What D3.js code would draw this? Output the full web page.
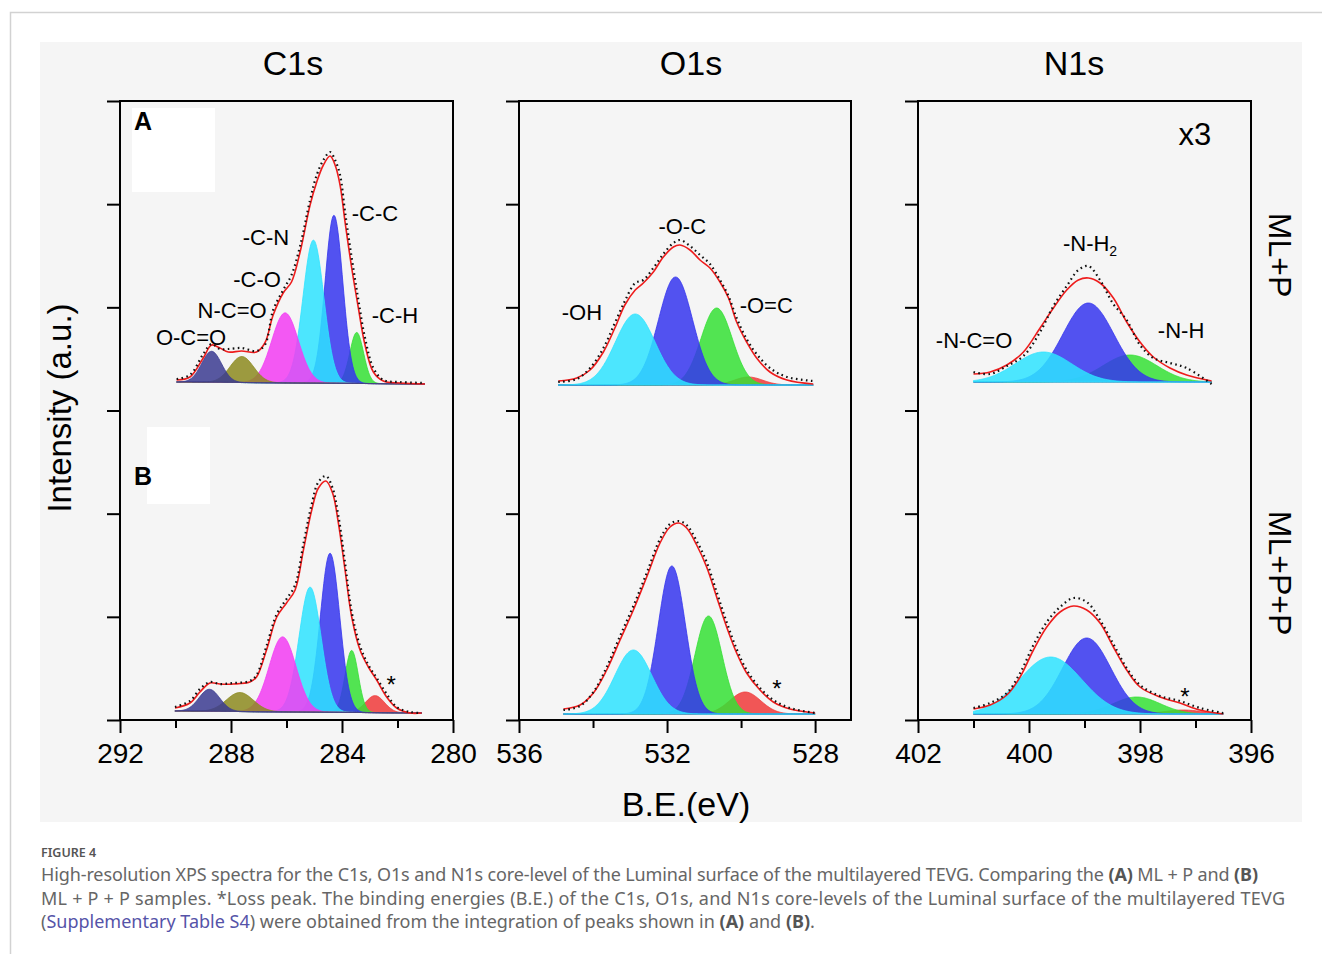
<!DOCTYPE html>
<html>
<head>
<meta charset="utf-8">
<script src="https://cdn.jsdelivr.net/npm/d3@7"></script>
<style>
  body { margin: 0; background: #fff; }
  svg { display: block; }
</style>
</head>
<body>
<svg id="chart" width="1322" height="954"></svg>
<script>
// ---------- data (B.E. in eV, intensity in a.u.) ----------

// tick labels
const c1sMajor = [292, 288, 284, 280]
const c1sMinor = [290, 286, 282]
const o1sMajor = [536, 532, 528]
const o1sMinor = [534, 530]
const n1sMajor = [402, 400, 398, 396]
const n1sMinor = [401, 399, 397]

// C1s, ML+P (A)
const c1sA_E   = [289.96, 289.48, 289.0, 288.70, 288.40, 288.10, 287.62, 287.08, 286.78, 286.48, 286.12, 285.82, 285.51, 285.15, 284.91, 284.67, 284.43, 284.25, 284.07, 283.89, 283.65, 283.41, 283.17, 282.87, 282.51, 281.91, 281.01]
const c1sA_fit = [340, 343, 362, 375, 372, 368, 369, 368, 377, 405, 427, 438, 468, 515, 538, 555, 564, 555, 535, 498, 452, 412, 375, 348, 339, 337, 336]
const c1sA_raw = [341, 345, 366, 376, 371, 371, 372, 369, 375, 410, 430, 445, 474, 520, 545, 560, 568, 560, 545, 508, 462, 420, 382, 352, 340, 338, 337]
const c1sA_bg  = [338, 336]
const c1sA_center = [288.70, 287.61, 286.05, 285.03, 284.29, 283.47]
const c1sA_height = [31, 26, 70, 143, 168, 51]
const c1sA_fwhm   = [0.84, 1.0, 1.13, 0.88, 0.75, 0.58]

// C1s, ML+P+P (B)
const c1sB_E   = [290.02, 289.48, 289.12, 288.76, 288.40, 287.92, 287.32, 287.08, 286.72, 286.35, 286.0, 285.69, 285.39, 285.09, 284.85, 284.58, 284.34, 284.13, 283.89, 283.65, 283.35, 283.05, 282.75, 282.39, 282.03, 281.55, 281.13]
const c1sB_fit = [12, 17, 28, 37, 36, 36, 38, 43, 70, 103, 117, 130, 170, 210, 232, 239, 227, 197, 150, 103, 70, 53, 40, 23, 12, 7, 7]
const c1sB_raw = [13, 19, 31, 38, 36, 37, 39, 45, 74, 106, 121, 135, 176, 216, 238, 244, 232, 204, 157, 108, 74, 55, 42, 26, 13, 8, 7]
const c1sB_bg  = [9, 7]
const c1sB_center = [288.78, 287.68, 286.14, 285.15, 284.43, 283.65, 282.81]
const c1sB_height = [22, 19, 75, 125, 159, 62, 17]
const c1sB_fwhm   = [0.88, 1.14, 1.14, 0.93, 0.82, 0.56, 0.8]

// O1s, ML+P (A)
const o1sA_E   = [534.94, 534.44, 534.08, 533.72, 533.41, 533.14, 532.86, 532.64, 532.37, 532.10, 531.83, 531.65, 531.38, 531.11, 530.84, 530.57, 530.34, 530.12, 529.85, 529.58, 529.22, 528.76, 528.05]
const o1sA_fit = [339, 342, 350, 368, 392, 415, 430, 437, 448, 463, 473, 475, 470, 460, 452, 438, 422, 398, 378, 362, 348, 340, 336]
const o1sA_raw = [338, 341, 352, 372, 397, 419, 437, 440, 452, 466, 477, 480, 474, 465, 456, 440, 424, 402, 381, 366, 352, 343, 339]
const o1sA_bg  = [335, 335]
const o1sA_center = [532.86, 531.77, 530.66, 529.80]
const o1sA_height = [71, 108, 77, 8]
const o1sA_fwhm   = [1.26, 1.08, 0.99, 0.9]

// O1s, ML+P+P (B)
const o1sB_E   = [534.80, 534.35, 533.99, 533.63, 533.27, 532.91, 532.55, 532.19, 531.92, 531.69, 531.47, 531.20, 530.93, 530.66, 530.39, 530.12, 529.85, 529.49, 529.13, 528.68, 528.0]
const o1sB_fit = [11, 15, 27, 50, 80, 110, 143, 177, 193, 197, 192, 175, 153, 123, 93, 67, 47, 30, 18, 11, 7]
const o1sB_raw = [10, 14, 28, 53, 84, 114, 147, 181, 196, 199, 195, 179, 158, 128, 98, 71, 50, 32, 20, 12, 7]
const o1sB_bg  = [6, 6]
const o1sB_center = [532.91, 531.87, 530.88, 529.89]
const o1sB_height = [64, 148, 98, 22]
const o1sB_fwhm   = [1.17, 0.86, 0.86, 0.99]

// N1s, ML+P (A)  (shown x3)
const n1sA_E   = [401.00, 400.70, 400.40, 400.10, 399.80, 399.56, 399.32, 399.11, 398.93, 398.72, 398.48, 398.24, 398.0, 397.76, 397.46, 397.16, 396.71]
const n1sA_fit = [346, 348, 355, 368, 392, 412, 430, 440, 442, 437, 422, 398, 378, 363, 352, 345, 339]
const n1sA_raw = [348, 346, 354, 364, 388, 414, 434, 450, 454, 440, 416, 400, 375, 362, 357, 352, 336]
const n1sA_bg  = [338, 338]
const n1sA_center = [399.74, 398.93, 398.18]
const n1sA_height = [30, 79, 27]
const n1sA_fwhm   = [1.2, 1.08, 1.14]

// N1s, ML+P+P (B)
const n1sB_E   = [401.0, 400.70, 400.40, 400.16, 399.92, 399.68, 399.44, 399.20, 398.96, 398.72, 398.48, 398.24, 398.0, 397.64, 397.28, 396.92, 396.50]
const n1sB_fit = [11, 15, 25, 43, 70, 93, 108, 114, 110, 97, 73, 50, 33, 23, 17, 10, 6]
const n1sB_raw = [12, 17, 27, 47, 75, 98, 113, 122, 118, 100, 76, 52, 35, 24, 19, 12, 7]
const n1sB_bg  = [6, 6]
const n1sB_center = [399.61, 398.96, 398.06, 397.22]
const n1sB_height = [57, 76, 17, 4]
const n1sB_fwhm   = [1.32, 1.02, 1.0, 0.8]

// peak labels: [text, B.E., intensity]
const c1sA_labels = [['-C-C', 282.81, 499], ['-C-N', 286.74, 475], ['-C-O', 287.06, 433], ['N-C=O', 287.96, 402], ['O-C=O', 289.44, 375], ['-C-H', 282.09, 397]]
const o1sA_labels = [['-O-C', 531.59, 486], ['-OH', 534.30, 400], ['-O=C', 529.32, 407]]
const n1sA_labels = [['-N-C=O', 400.99, 372], ['-N-H', 397.26, 382]]
const lossMarks = [[282.23, 27], [529.03, 23], [397.19, 15]]

// ---------- styles ----------
const c1sColors = ['#3b3b90', '#8c8a1e', '#f23cf2', '#2ee3ff', '#3535ee', '#35e035', '#f03a3a']
const oxColors  = ['#2ee3ff', '#3535ee', '#35e035', '#f03a3a']
const font = 'Liberation Sans, Arial, Helvetica, sans-serif'

const svg = d3.select('#chart')

// page frame + figure background
svg.append('path')
    .attr('d', 'M10.5,954 V12.5 H1322')
    .attr('fill', 'none').attr('stroke', '#d2d2d2').attr('stroke-width', 1.5)
svg.append('rect')
    .attr('x', 40).attr('y', 42).attr('width', 1262).attr('height', 780)
    .attr('fill', '#f5f5f5')

const plotTop = 101, plotBottom = 720
const yMax = 619
const y = d3.scaleLinear().domain([0, yMax]).range([plotBottom, plotTop])

const panels = [
    {title: 'C1s', x0: 120, x1: 453, titleX: 293, domain: [292, 280], major: c1sMajor, minor: c1sMinor, colors: c1sColors,
     rows: [
        {E: c1sA_E, fit: c1sA_fit, raw: c1sA_raw, bg: c1sA_bg, c: c1sA_center, h: c1sA_height, w: c1sA_fwhm},
        {E: c1sB_E, fit: c1sB_fit, raw: c1sB_raw, bg: c1sB_bg, c: c1sB_center, h: c1sB_height, w: c1sB_fwhm}
     ], labels: c1sA_labels, loss: lossMarks[0]},
    {title: 'O1s', x0: 519, x1: 851, titleX: 691, domain: [536, 527.03], major: o1sMajor, minor: o1sMinor, colors: oxColors,
     rows: [
        {E: o1sA_E, fit: o1sA_fit, raw: o1sA_raw, bg: o1sA_bg, c: o1sA_center, h: o1sA_height, w: o1sA_fwhm},
        {E: o1sB_E, fit: o1sB_fit, raw: o1sB_raw, bg: o1sB_bg, c: o1sB_center, h: o1sB_height, w: o1sB_fwhm}
     ], labels: o1sA_labels, loss: lossMarks[1]},
    {title: 'N1s', x0: 918, x1: 1251, titleX: 1074, domain: [402, 396], major: n1sMajor, minor: n1sMinor, colors: oxColors,
     rows: [
        {E: n1sA_E, fit: n1sA_fit, raw: n1sA_raw, bg: n1sA_bg, c: n1sA_center, h: n1sA_height, w: n1sA_fwhm},
        {E: n1sB_E, fit: n1sB_fit, raw: n1sB_raw, bg: n1sB_bg, c: n1sB_center, h: n1sB_height, w: n1sB_fwhm}
     ], labels: n1sA_labels, loss: lossMarks[2]}
]

const gauss = (e, c, h, w) => h * Math.exp(-4 * Math.LN2 * (e - c) * (e - c) / (w * w))

panels.forEach((p, pi) => {
    const x = d3.scaleLinear().domain(p.domain).range([p.x0, p.x1])
    const g = svg.append('g')

    p.rows.forEach(r => {
        const e0 = r.E[0], e1 = r.E[r.E.length - 1]
        const bgAt = e => r.bg[0] + (r.bg[1] - r.bg[0]) * (e - e0) / (e1 - e0)
        const grid = d3.range(0, 301).map(i => e0 + (e1 - e0) * i / 300)
        const area = d3.area().x(d => x(d.e)).y0(d => y(d.b)).y1(d => y(d.v))

        // components, lowest B.E. first so the high B.E. ones sit on top
        d3.range(r.c.length).reverse().forEach(k => {
            const pts = grid.map(e => ({e, b: bgAt(e), v: bgAt(e) + gauss(e, r.c[k], r.h[k], r.w[k])}))
            g.append('path')
                .attr('d', area(pts))
                .attr('fill', p.colors[k]).attr('fill-opacity', 0.85)
                .attr('stroke', p.colors[k]).attr('stroke-width', 0.8)
        })

        const line = d3.line().x((d, i) => x(r.E[i])).y(d => y(d)).curve(d3.curveCatmullRom.alpha(0.5))
        g.append('path')
            .attr('d', line(r.fit))
            .attr('fill', 'none').attr('stroke', '#ee1c1c').attr('stroke-width', 1.6)
        g.append('path')
            .attr('d', line(r.raw))
            .attr('fill', 'none').attr('stroke', '#111').attr('stroke-width', 2.2)
            .attr('stroke-dasharray', '1.6,3.4')
    })

    // peak labels (top row)
    p.labels.forEach(l => {
        g.append('text')
            .attr('x', x(l[1])).attr('y', y(l[2]))
            .attr('text-anchor', 'middle')
            .attr('font-family', font).attr('font-size', 22)
            .text(l[0])
    })
    // loss peak marker (bottom row)
    g.append('text')
        .attr('x', x(p.loss[0])).attr('y', y(p.loss[1]))
        .attr('text-anchor', 'middle')
        .attr('font-family', font).attr('font-size', 24)
        .text('*')

    // frame
    g.append('rect')
        .attr('x', p.x0).attr('y', plotTop).attr('width', p.x1 - p.x0).attr('height', plotBottom - plotTop)
        .attr('fill', 'none').attr('stroke', '#000').attr('stroke-width', 2)

    // left axis ticks (outward, no labels)
    const yAxis = g.append('g').attr('transform', `translate(${p.x0},0)`)
        .call(d3.axisLeft(y).tickValues(d3.range(0, 7).map(k => k * yMax / 6)).tickSize(13).tickFormat(''))
    yAxis.select('.domain').remove()
    yAxis.selectAll('line').attr('stroke', '#000').attr('stroke-width', 2)

    // bottom axis
    const xMinor = g.append('g').attr('transform', `translate(0,${plotBottom})`)
        .call(d3.axisBottom(x).tickValues(p.minor).tickSize(8).tickFormat(''))
    xMinor.select('.domain').remove()
    xMinor.selectAll('line').attr('stroke', '#000').attr('stroke-width', 2)

    const xAxis = g.append('g').attr('transform', `translate(0,${plotBottom})`)
        .call(d3.axisBottom(x).tickValues(p.major).tickSize(13).tickPadding(10).tickFormat(d3.format('d')))
    xAxis.select('.domain').remove()
    xAxis.selectAll('line').attr('stroke', '#000').attr('stroke-width', 2)
    xAxis.selectAll('text').attr('font-family', font).attr('font-size', 28).attr('fill', '#000')

    // panel title
    svg.append('text')
        .attr('x', p.titleX).attr('y', 75)
        .attr('text-anchor', 'middle')
        .attr('font-family', font).attr('font-size', 34)
        .text(p.title)

    if (pi === 2) {
        // -N-H2 label with subscript, and the x3 scale note
        const t = g.append('text')
            .attr('x', x(398.90)).attr('y', y(469))
            .attr('text-anchor', 'middle')
            .attr('font-family', font).attr('font-size', 22)
        t.append('tspan').text('-N-H')
        t.append('tspan').attr('font-size', 14).attr('dy', 5).text('2')
        g.append('text')
            .attr('x', x(397.01)).attr('y', y(575))
            .attr('text-anchor', 'middle')
            .attr('font-family', font).attr('font-size', 31)
            .text('x3')
    }
})

// panel letters with their white boxes
svg.append('rect').attr('x', 132).attr('y', 108).attr('width', 83).attr('height', 84).attr('fill', '#fff')
svg.append('rect').attr('x', 147).attr('y', 427).attr('width', 63).attr('height', 77).attr('fill', '#fff')
svg.append('text').attr('x', 134).attr('y', 130)
    .attr('font-family', font).attr('font-size', 25).attr('font-weight', 'bold').text('A')
svg.append('text').attr('x', 134).attr('y', 485)
    .attr('font-family', font).attr('font-size', 25).attr('font-weight', 'bold').text('B')

// axis titles
svg.append('text')
    .attr('transform', 'translate(71,408) rotate(-90)')
    .attr('text-anchor', 'middle')
    .attr('font-family', font).attr('font-size', 33)
    .text('Intensity (a.u.)')
svg.append('text')
    .attr('x', 686).attr('y', 816)
    .attr('text-anchor', 'middle')
    .attr('font-family', font).attr('font-size', 34)
    .text('B.E.(eV)')
svg.append('text')
    .attr('transform', 'translate(1269,255) rotate(90)')
    .attr('text-anchor', 'middle')
    .attr('font-family', font).attr('font-size', 32)
    .text('ML+P')
svg.append('text')
    .attr('transform', 'translate(1269,573) rotate(90)')
    .attr('text-anchor', 'middle')
    .attr('font-family', font).attr('font-size', 32)
    .text('ML+P+P')

// caption
const capFont = 'Noto Sans, Open Sans, sans-serif'
svg.append('text')
    .attr('x', 41).attr('y', 857)
    .attr('font-family', capFont).attr('font-size', 12.5).attr('font-weight', 600)
    .attr('fill', '#555')
    .text('FIGURE 4')

const cap = [
    [['High-resolution XPS spectra for the C1s, O1s and N1s core-level of the Luminal surface of the multilayered TEVG. Comparing the ', 0], ['(A)', 1], [' ML + P and ', 0], ['(B)', 1]],
    [['ML + P + P samples. *Loss peak. The binding energies (B.E.) of the C1s, O1s, and N1s core-levels of the Luminal surface of the multilayered TEVG', 0]],
    [['(', 0], ['Supplementary Table S4', 2], [') were obtained from the integration of peaks shown in ', 0], ['(A)', 1], [' and ', 0], ['(B)', 1], ['.', 0]]
]
const capWidths = [1217, 1244, null]
cap.forEach((parts, i) => {
    const t = svg.append('text')
        .attr('x', 41).attr('y', 881 + i * 23.5)
        .attr('font-family', capFont).attr('font-size', 18)
        .attr('fill', '#666')
        .attr('xml:space', 'preserve')
    if (capWidths[i]) t.attr('textLength', capWidths[i]).attr('lengthAdjust', 'spacing')
    parts.forEach(s => {
        const ts = t.append('tspan').text(s[0])
        if (s[1] === 1) ts.attr('font-weight', 'bold').attr('fill', '#555')
        if (s[1] === 2) ts.attr('fill', '#5553a8')
    })
})
</script>
</body>
</html>
